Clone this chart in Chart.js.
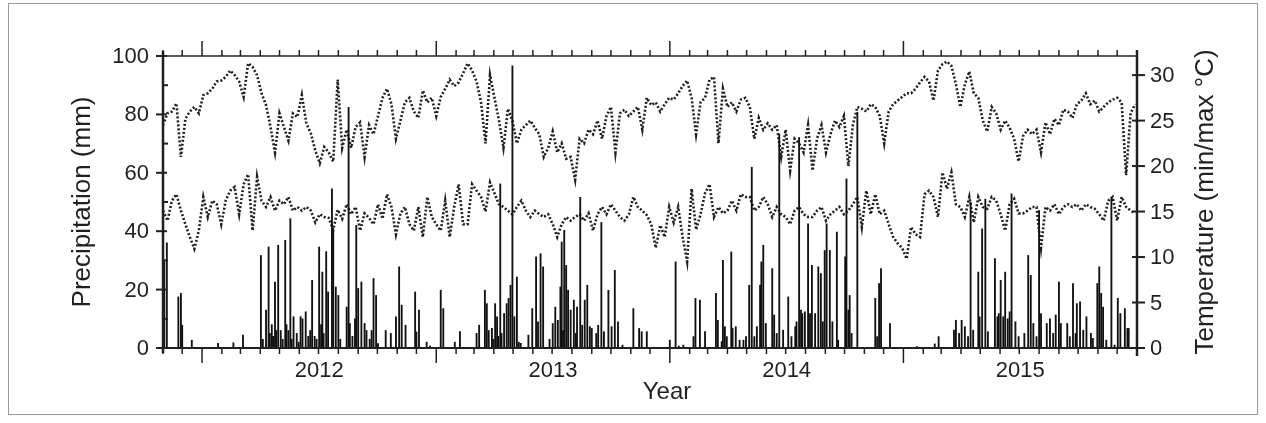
<!DOCTYPE html>
<html>
<head>
<meta charset="utf-8">
<script src="https://cdn.jsdelivr.net/npm/chart.js@4.4.0/dist/chart.umd.min.js"></script>
<style>
html, body { margin: 0; padding: 0; background: #fff; }
canvas { display: block; }
</style>
</head>
<body>
<canvas id="grafico" width="1266" height="423"></canvas>
<script>
// dias contados a partir de 1 nov 2011; temperaturas lidas a cada 7 dias
const tmax = [
    24.5, 25.8, 26.0, 26.9, 21.0, 25.2, 26.0, 26.5, 25.8, 27.8, 28.0, 28.5, 29.3, 29.4, 29.8, 30.5, 30.0, 29.3, 27.6, 31.3, 30.9, 30.0, 28.0, 26.7, 24.3, 21.5, 25.8, 24.3, 22.8, 25.8, 25.4, 27.8, 24.7, 23.6, 21.7, 20.3, 22.1,
    21.5, 20.5, 29.5, 22.0, 24.0, 22.0, 24.3, 24.8, 21.0, 24.5, 23.5, 25.5, 27.5, 28.5, 26.8, 23.0, 25.0, 27.0, 27.5, 26.0, 25.3, 28.3, 27.0, 27.5, 25.5, 27.6, 28.5, 29.5, 28.8, 29.2, 30.2, 31.3, 30.5, 29.3, 27.0, 22.5, 30.0,
    27.5, 25.0, 22.0, 26.3, 25.0, 22.5, 24.0, 24.5, 25.0, 24.2, 23.5, 21.0, 22.0, 23.8, 21.5, 22.5, 20.8, 21.0, 18.5, 23.0, 22.5, 24.0, 23.5, 25.0, 23.0, 25.5, 26.5, 21.5, 25.8, 26.2, 25.5, 26.0, 26.5, 24.0, 27.5, 26.7, 27.0,
    26.0, 26.8, 27.5, 27.3, 28.0, 28.8, 29.4, 27.5, 23.5, 27.0, 27.5, 29.5, 29.8, 22.5, 28.5, 26.5, 27.0, 26.0, 27.3, 27.5, 26.5, 23.0, 25.3, 24.0, 24.7, 24.0, 24.5, 21.0, 24.0, 19.5, 23.0, 22.5, 21.5, 24.5, 19.5, 23.0, 24.5,
    21.5, 23.5, 25.0, 24.3, 25.5, 20.0, 24.5, 26.5, 26.3, 26.0, 26.8, 26.5, 25.5, 22.5, 26.0, 26.8, 27.2, 27.6, 28.0, 28.0, 28.5, 29.2, 29.8, 29.3, 27.2, 30.5, 31.2, 31.5, 31.0, 29.0, 26.5, 29.0, 30.4, 28.0, 27.5, 25.0,
    23.8, 26.5, 25.8, 24.0, 25.0, 24.2, 23.0, 20.5, 23.3, 24.0, 23.5, 24.0, 21.5, 24.8, 23.5, 25.2, 24.5, 26.2, 26.0, 25.3, 26.8, 27.2, 28.0, 26.8, 27.2, 26.0, 26.5, 27.0, 27.3, 27.5, 27.0, 19.0, 25.8, 26.8
];
const tmin = [
    15.1, 14.0, 16.2, 16.9, 15.1, 13.6, 12.2, 10.9, 12.9, 16.6, 14.4, 16.2, 15.8, 13.6, 16.2, 17.3, 17.7, 14.7, 18.0, 19.1, 12.9, 18.8, 16.2, 15.5, 16.6, 15.1, 16.2, 15.8, 16.6, 15.1, 15.5, 15.1, 15.5, 15.1, 13.8, 14.7, 14.4,
    14.3, 13.0, 15.2, 14.2, 15.8, 14.7, 15.5, 12.9, 14.8, 14.3, 13.6, 15.8, 14.2, 16.9, 15.5, 12.5, 14.8, 15.5, 13.6, 12.9, 15.5, 12.2, 16.6, 14.4, 13.6, 12.9, 16.2, 12.2, 15.5, 18.0, 13.6, 13.6, 18.0, 17.3, 16.6, 15.0, 18.2,
    17.0, 15.8, 15.5, 15.1, 14.7, 15.5, 16.2, 15.1, 14.4, 15.1, 14.7, 14.4, 14.7, 13.6, 12.2, 13.6, 14.4, 14.0, 14.4, 14.7, 14.0, 14.8, 12.9, 14.7, 15.5, 14.7, 15.8, 15.1, 14.4, 14.0, 14.7, 16.6, 15.5, 15.1, 14.6, 13.6, 11.0,
    13.5, 12.2, 15.5, 13.8, 15.5, 12.2, 9.5, 17.5, 13.0, 14.7, 17.0, 18.0, 14.4, 15.5, 14.8, 15.1, 16.2, 15.1, 16.9, 16.6, 16.6, 15.1, 15.5, 16.6, 15.8, 14.4, 15.5, 14.7, 14.4, 13.6, 15.1, 15.5, 14.7, 14.4, 14.4, 15.1, 15.5,
    14.0, 14.7, 15.1, 15.5, 14.7, 15.1, 15.8, 16.6, 13.3, 17.3, 14.7, 16.9, 14.7, 15.1, 13.6, 12.2, 11.5, 11.0, 9.8, 13.3, 12.5, 12.2, 16.9, 17.3, 16.6, 14.4, 19.3, 17.5, 19.3, 15.8, 15.5, 14.4, 16.6, 13.8, 16.6, 15.5,
    15.3, 16.6, 16.2, 14.7, 12.9, 15.8, 16.4, 14.8, 14.8, 15.1, 15.5, 15.5, 11.0, 15.5, 15.1, 15.8, 14.7, 15.5, 15.8, 15.5, 15.8, 15.1, 15.8, 15.5, 15.3, 14.7, 14.0, 16.2, 16.6, 14.0, 16.6, 15.5, 15.1, 14.8
];
const tempDays = tmax.map((_, i) => i * 7);

// chuva: dia e mm
const rainDays = [
    2, 6, 24, 28, 30, 45, 86, 110, 125, 153, 156, 161, 165, 167, 170, 172, 175, 177, 180, 184, 187, 191, 193, 196, 199, 201, 204, 209, 212, 215, 218, 223, 227, 230, 233, 237, 240, 244, 247, 249, 251, 255,
    258, 264, 266, 270, 274, 277, 287, 290, 292, 296, 300, 302, 305, 310, 315, 318, 323, 326, 329, 333, 336, 348, 356, 364, 369, 373, 379, 394, 396, 400, 412, 417, 434, 438, 456, 464, 490, 494, 503, 506, 509,
    514, 516, 519, 522, 524, 527, 529, 533, 537, 540, 543, 546, 549, 553, 556, 559, 571, 577, 583, 586, 590, 594, 604, 609, 613, 617, 621, 623, 625, 627, 630, 633, 637, 642, 645, 647, 652, 655, 659, 663, 667, 670, 677, 680, 685, 689, 696, 701, 706, 711, 718, 735, 744, 748, 756,
    792, 801, 806, 813, 829, 832, 839, 847, 864, 867, 873, 875, 878, 881, 888, 890, 895, 901, 907, 911, 916, 920, 924, 928, 933, 935, 938, 942, 952, 955, 959, 963, 969, 977, 982, 988, 990, 994, 997, 999, 1003, 1008, 1011, 1014, 1019, 1024, 1028,
    1031, 1034, 1037, 1042, 1046, 1053, 1055, 1066, 1068, 1071, 1073, 1076, 1085, 1113, 1116, 1119, 1122, 1136, 1178, 1206, 1212, 1236, 1239, 1244, 1248, 1253, 1258, 1262, 1266, 1274, 1276, 1280, 1285,
    1289, 1300, 1304, 1306, 1309, 1313, 1316, 1320, 1323, 1326, 1332, 1337, 1346, 1352, 1356, 1360, 1365, 1369, 1372, 1381, 1386, 1391, 1395, 1400, 1403, 1413, 1417, 1422, 1426, 1428, 1433, 1438, 1443, 1450, 1453, 1460, 1463, 1466, 1469, 1474, 1482, 1487, 1492, 1496, 1503, 1507, 1509
];
const rainMm = [
    30, 36, 17.5, 18.7, 7.8, 2.7, 1.6, 1.8, 4.4, 31.7, 3, 13, 34.6, 5, 8, 4, 22.6, 6, 35.2, 6, 3, 36.9, 8, 6, 44.3, 3, 10.7, 5, 2, 10.7, 10, 12.4, 4, 6, 23.2, 4, 3, 34.6, 8, 26, 5, 33,
    19.2, 54.5, 40.3, 20.9, 18, 3, 14, 82.4, 8.4, 4, 10, 42, 20.4, 22.6, 8.4, 6, 3, 6, 23.8, 18, 1.5, 6, 5, 10.7, 27.8, 14.7, 7.8, 19.2, 5.5, 13, 2, 0.7, 19.8, 13.5, 2, 5.6, 5, 7.8, 19.8, 15.2, 6,
    6.7, 3, 15.2, 10.7, 4, 56.2, 5, 11.8, 15.2, 17, 21.5, 96.6, 10.7, 24.3, 2, 1.6, 4.4, 13.5, 31.2, 9, 32.3, 27.8, 3, 8.4, 14, 9.5, 20.9, 36.3, 6, 40.3, 28.3, 19.8, 13, 16.4, 5, 14, 51.6, 7.8, 16.4, 21.5, 7.3, 6.7, 5, 7.8, 43, 5.6, 19.8, 7.3, 26.6, 9, 1, 13.5, 6.7, 5.6, 5.6,
    2.7, 29.5, 0.7, 1, 3.9, 17, 16.4, 5.6, 18.7, 9.5, 2.2, 30, 7.3, 3.9, 32.9, 6.7, 7.3, 2.7, 2.7, 3.9, 21.5, 61.9, 3.9, 7.3, 21.5, 29.5, 35.2, 8.4, 27.2, 11.3, 5, 73.3, 6.1, 17.5, 3.9, 7.3, 9, 72.1, 13, 11.8, 12.4, 42.5, 11.8, 28.3, 11.8, 27.8, 25.5,
    9, 33.4, 42.5, 33.4, 9, 39.7, 2.7, 31.2, 57.9, 13, 18, 5, 80.7, 17, 3.9, 22.1, 27.2, 8.4, 0.5, 1.4, 3.9, 6.1, 9.5, 5, 9.5, 7.3, 3.9, 50, 6.1, 26, 10.7, 40.8, 51,
    5.6, 30.6, 10.7, 11.8, 23.2, 10.7, 26, 10, 12.4, 52.8, 9, 3.9, 5, 31.7, 24.9, 8.4, 3.9, 47.1, 11.8, 8.4, 10, 5, 11.3, 22.6, 8.4, 8.4, 3.9, 22.1, 5, 15.2, 15.8, 6.1, 10.7, 5, 3.3, 22.1, 27.8, 18.7, 14, 2.7, 51.6, 1, 17, 11.8, 13.5, 6.7, 6.7
];

const precipTicks = [0, 20, 40, 60, 80, 100];
const precipMinor = [10, 30, 50, 70, 90];
const tempTicks = [0, 5, 10, 15, 20, 25, 30];
const yearLabels = [2012, 2013, 2014, 2015];

const inicio = Date.UTC(2011, 10, 1);
const totalDias = (Date.UTC(2016, 0, 1) - inicio) / 86400000;
const cor = '#231f20';
const fonte = '"Liberation Sans", Arial, sans-serif';

function linha(c, x1, y1, x2, y2) {
    c.beginPath();
    c.moveTo(x1, y1);
    c.lineTo(x2, y2);
    c.stroke();
}

const eixos = {
    id: 'eixos',
    afterDraw(chart) {
        const c = chart.ctx;
        const a = chart.chartArea;
        const sx = chart.scales.x, sp = chart.scales.yP, st = chart.scales.yT;
        c.save();

        c.strokeStyle = '#9a9a9a';
        c.lineWidth = 1;
        c.strokeRect(8.5, 3.5, 1249, 411);

        c.strokeStyle = cor;
        c.lineWidth = 1.5;
        linha(c, a.left, a.top, a.right, a.top);
        c.lineWidth = 2;
        linha(c, a.left, a.bottom, a.right, a.bottom);
        c.lineWidth = 2.5;
        linha(c, a.left, a.top - 5, a.left, a.bottom + 5);
        linha(c, a.right, a.top - 6, a.right, a.bottom + 8);

        // meses e anos
        c.lineWidth = 1.5;
        for (let ano = 2011; ano <= 2015; ano++) {
            for (let m = 0; m < 12; m++) {
                const d = (Date.UTC(ano, m, 1) - inicio) / 86400000;
                if (d < 0) continue;
                const x = sx.getPixelForValue(d);
                const h = m === 0 ? 15 : 6;
                linha(c, x, a.top, x, a.top - h);
                linha(c, x, a.bottom, x, a.bottom + h);
            }
        }

        c.lineWidth = 2;
        precipTicks.forEach(v => {
            const y = sp.getPixelForValue(v);
            linha(c, a.left - 7, y, a.left + 4, y);
        });
        precipMinor.forEach(v => {
            const y = sp.getPixelForValue(v);
            linha(c, a.left, y, a.left + 5, y);
        });
        tempTicks.forEach(v => {
            const y = st.getPixelForValue(v);
            linha(c, a.right - 5, y, a.right + 8, y);
        });

        c.fillStyle = cor;
        c.font = '22px ' + fonte;
        c.textBaseline = 'middle';
        c.textAlign = 'right';
        precipTicks.forEach(v => c.fillText(v, a.left - 14, sp.getPixelForValue(v) + 1));
        c.textAlign = 'left';
        tempTicks.forEach(v => c.fillText(v, a.right + 13, st.getPixelForValue(v) + 1));

        c.textAlign = 'center';
        c.textBaseline = 'alphabetic';
        yearLabels.forEach(ano => {
            const meio = ((Date.UTC(ano, 0, 1) + Date.UTC(ano + 1, 0, 1)) / 2 - inicio) / 86400000;
            c.fillText(ano, sx.getPixelForValue(meio), 377);
        });
        c.font = '24px ' + fonte;
        c.fillText('Year', 667, 399);

        c.font = '26px ' + fonte;
        c.textBaseline = 'middle';
        c.save();
        c.translate(83, (a.top + a.bottom) / 2);
        c.rotate(-Math.PI / 2);
        c.fillText('Precipitation (mm)', 0, 0);
        c.restore();
        c.save();
        c.translate(1206, (a.top + a.bottom) / 2);
        c.rotate(-Math.PI / 2);
        c.fillText('Temperature (min/max °C)', 0, 0);
        c.restore();

        c.restore();
    }
};

const ctx = document.getElementById('grafico').getContext('2d');
new Chart(ctx, {
    type: 'bar',
    data: {
        datasets: [
            {
                type: 'line',
                label: 'Tmax',
                data: tmax.map((v, i) => ({ x: tempDays[i], y: v })),
                yAxisID: 'yT',
                borderColor: '#1f1f1f',
                borderWidth: 2.6,
                borderDash: [2, 2],
                pointRadius: 0,
                tension: 0,
                order: 2
            },
            {
                type: 'line',
                label: 'Tmin',
                data: tmin.map((v, i) => ({ x: tempDays[i], y: v })),
                yAxisID: 'yT',
                borderColor: '#1f1f1f',
                borderWidth: 2.6,
                borderDash: [2, 2],
                pointRadius: 0,
                tension: 0,
                order: 2
            },
            {
                label: 'Precipitation',
                data: rainDays.map((d, i) => ({ x: d, y: rainMm[i] })),
                yAxisID: 'yP',
                backgroundColor: '#111',
                barThickness: 1.2,
                order: 1
            }
        ]
    },
    options: {
        responsive: false,
        animation: false,
        devicePixelRatio: 1,
        layout: { padding: { left: 163, right: 129, top: 56, bottom: 75 } },
        plugins: { legend: { display: false }, tooltip: { enabled: false } },
        scales: {
            x: { type: 'linear', min: 0, max: totalDias, display: false, offset: false },
            yP: { type: 'linear', position: 'left', min: 0, max: 100, display: false },
            yT: { type: 'linear', position: 'right', min: 0, max: 32.1, display: false }
        }
    },
    plugins: [eixos]
});
</script>
</body>
</html>
